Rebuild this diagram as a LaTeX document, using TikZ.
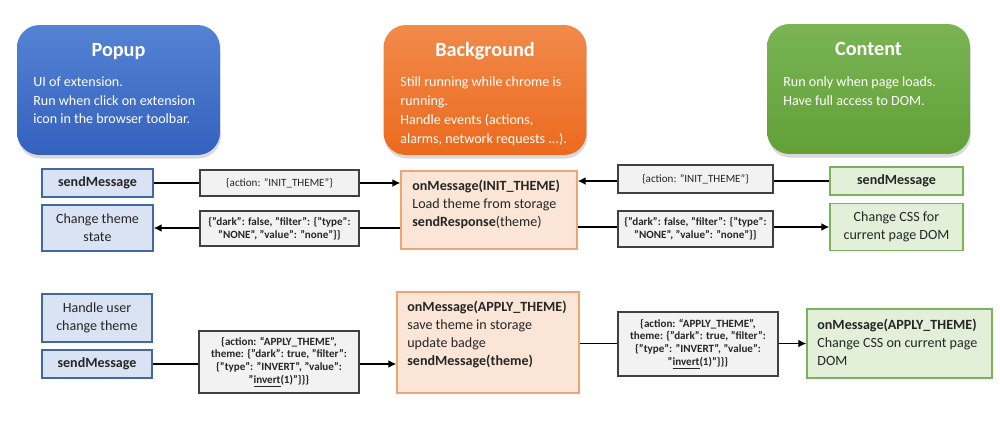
\documentclass[tikz,border=0pt]{standalone}
\usepackage{fontspec}
\setmainfont{Carlito}
\usepackage{tikz}
\usetikzlibrary{arrows.meta, positioning, shadows}

\definecolor{popTop}{RGB}{84,131,212}
\definecolor{popBottom}{RGB}{52,97,190}
\definecolor{bgTop}{RGB}{241,138,74}
\definecolor{bgBottom}{RGB}{236,106,30}
\definecolor{ctTop}{RGB}{122,180,84}
\definecolor{ctBottom}{RGB}{98,160,56}
\definecolor{popFill}{RGB}{218,227,243}
\definecolor{popLine}{RGB}{65,105,160}
\definecolor{bgFill}{RGB}{251,229,214}
\definecolor{bgLine}{RGB}{237,165,115}
\definecolor{ctFill}{RGB}{226,240,217}
\definecolor{ctLine}{RGB}{125,178,92}
\definecolor{msgFill}{RGB}{242,242,242}
\definecolor{msgLine}{RGB}{64,64,64}

\newcommand{\dq}{\symbol{34}}

\tikzset{
  header/.style={rounded corners=0.45cm, minimum width=4.06cm, minimum height=2.6cm, inner sep=0pt,
    drop shadow={opacity=0.3, shadow xshift=0.5pt, shadow yshift=-2pt}},
  headtitle/.style={white, font=\bfseries\fontsize{11.5}{13}\selectfont, anchor=base, inner sep=0pt},
  headtext/.style={white, font=\fontsize{8}{10.8}\selectfont, align=left, anchor=north west, inner sep=0pt},
  box/.style={line width=0.8pt, inner sep=0pt, align=center, text=black!85,
    font=\fontsize{8}{10.2}\selectfont},
  popbox/.style={box, draw=popLine, fill=popFill},
  bgbox/.style={box, draw=bgLine, fill=bgFill},
  ctbox/.style={box, draw=ctLine, fill=ctFill},
  boxtext/.style={font=\fontsize{8}{10.2}\selectfont, align=left, anchor=north west, inner sep=0pt, text=black!85},
  msg/.style={draw=msgLine, fill=msgFill, line width=0.6pt, inner sep=0pt, align=center, text=black!85,
    font=\bfseries\fontsize{6.3}{7.3}\selectfont},
  flow/.style={-{Latex[length=4.5pt,width=4.5pt]}, line width=1.1pt}
}

\begin{document}
\begin{tikzpicture}[x=0.02cm, y=-0.02cm]
	\useasboundingbox (0,0) rectangle (1000,420);
	% Headers
	\node[header, top color=popTop, bottom color=popBottom] (popup) at (118.5,90) {};
	\node[headtitle] (popupTitle) at (118.5,56.5) {Popup};
	\node[headtext] (popupText) at (33,76) {UI of extension.\\Run when click on extension\\icon in the browser toolbar.};
	\node[header, top color=bgTop, bottom color=bgBottom] (background) at (485,90) {};
	\node[headtitle] (backgroundTitle) at (485,56.5) {Background};
	\node[headtext] (backgroundText) at (400,76) {Still running while chrome is\\running.\\Handle events (actions,\\alarms, network requests ...).};
	\node[header, top color=ctTop, bottom color=ctBottom] (content) at (868.5,89) {};
	\node[headtitle] (contentTitle) at (868.5,55.5) {Content};
	\node[headtext] (contentText) at (783,76) {Run only when page loads.\\Have full access to DOM.};

	% INIT_THEME
	\node[popbox, minimum width=2.22cm, minimum height=0.56cm] (popSend) at (97.5,183) {\textbf{sendMessage}};
	\node[popbox, minimum width=2.22cm, minimum height=0.92cm] (popChange) at (97.5,228) {Change theme\\state};
	\node[bgbox, minimum width=3.52cm, minimum height=1.56cm] (bgInit) at (489,210) {};
	\node[boxtext] (bgInitText) at (412,180) {\textbf{onMessage(INIT\_THEME)}\\Load theme from storage\\\textbf{sendResponse}(theme)};
	\node[ctbox, minimum width=2.66cm, minimum height=0.56cm] (ctSend) at (896.5,181) {\textbf{sendMessage}};
	\node[ctbox, minimum width=2.66cm, minimum height=0.94cm] (ctChange) at (896.5,227) {Change CSS for\\current page DOM};
	\draw[flow] (popSend.east) -- (popSend.east -| bgInit.west);
	\draw[flow] (ctSend.west) -- (ctSend.west -| bgInit.east);
	\draw[flow] (bgInit.west |- popChange.east) -- (popChange.east);
	\draw[flow] (bgInit.east |- ctChange.west) -- (ctChange.west);
	\node[msg, font=\fontsize{6.3}{7.3}\selectfont, minimum width=3.18cm, minimum height=0.52cm] (msgInitA) at (279.5,183) {\{action: \dq INIT\_THEME\dq\}};
	\node[msg, minimum width=3.18cm, minimum height=0.7cm] (msgRespA) at (279.5,228.5) {\{\dq dark\dq: false, \dq filter\dq: \{\dq type\dq:\\\dq NONE\dq, \dq value\dq: \dq none\dq\}\}};
	\node[msg, font=\fontsize{6.3}{7.3}\selectfont, minimum width=3.1cm, minimum height=0.56cm] (msgInitB) at (695.5,179) {\{action: \dq INIT\_THEME\dq\}};
	\node[msg, minimum width=3.1cm, minimum height=0.72cm] (msgRespB) at (695.5,229) {\{\dq dark\dq: false, \dq filter\dq: \{\dq type\dq:\\\dq NONE\dq, \dq value\dq: \dq none\dq\}\}};

	% APPLY_THEME
	\node[popbox, minimum width=2.2cm, minimum height=0.96cm] (popHandle) at (97,318) {Handle user\\change theme};
	\node[popbox, minimum width=2.2cm, minimum height=0.56cm] (popSendApply) at (97,364) {\textbf{sendMessage}};
	\node[bgbox, minimum width=3.64cm, minimum height=2.02cm] (bgApply) at (488,342.5) {};
	\node[boxtext] (bgApplyText) at (407,301) {\textbf{onMessage(APPLY\_THEME)}\\save theme in storage\\update badge\\\textbf{sendMessage(theme)}};
	\node[ctbox, minimum width=3.7cm, minimum height=1.38cm] (ctApply) at (899.5,343.5) {};
	\node[boxtext] (ctApplyText) at (817,319) {\textbf{onMessage(APPLY\_THEME)}\\Change CSS on current page\\DOM};
	\draw[flow] (popSendApply.east) -- (popSendApply.east -| bgApply.west);
	\draw[flow] (bgApply.east |- ctApply.west) -- (ctApply.west);
	\node[msg, minimum width=3.2cm, minimum height=1.24cm] (msgApplyA) at (279,362) {\{action: “APPLY\_THEME”,\\theme: \{\dq dark\dq: true, \dq filter\dq:\\\{\dq type\dq: \dq INVERT\dq, \dq value\dq:\\\dq\underline{invert}(1)\dq\}\}\}};
	\node[msg, minimum width=3.2cm, minimum height=1.28cm] (msgApplyB) at (698,344) {\{action: “APPLY\_THEME”,\\theme: \{\dq dark\dq: true, \dq filter\dq:\\\{\dq type\dq: \dq INVERT\dq, \dq value\dq:\\\dq\underline{invert}(1)\dq\}\}\}};
\end{tikzpicture}
\end{document}
